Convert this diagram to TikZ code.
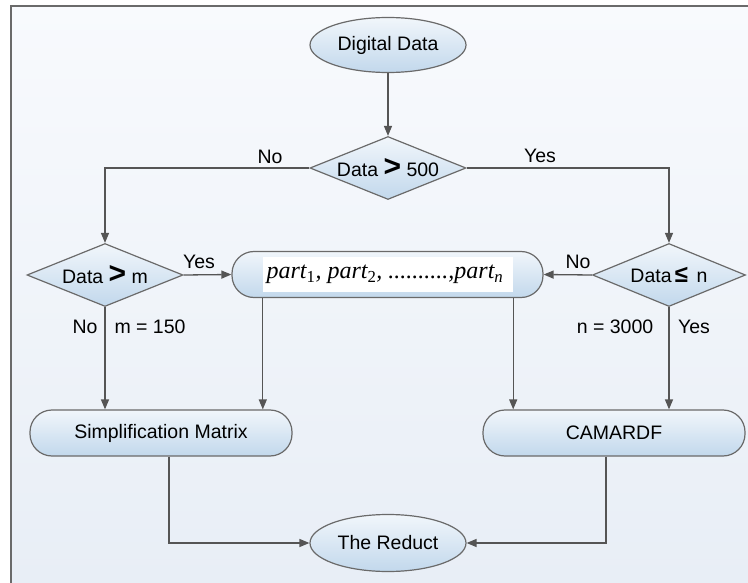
\documentclass[tikz,border=0pt]{standalone}
\usepackage{fontspec}
\setmainfont{Liberation Sans}
\newfontfamily\partfont{Liberation Serif}
\usetikzlibrary{shapes.geometric,arrows.meta}
\definecolor{bgtop}{HTML}{F8FAFD}
\definecolor{bgbot}{HTML}{E8EEF6}
\definecolor{shtop}{HTML}{F1F6FB}
\definecolor{shbot}{HTML}{C2D8EC}
\definecolor{edge}{HTML}{6A6A6A}
\definecolor{wire}{HTML}{555555}
\newcommand\gtsign{{\fontsize{30}{30}\selectfont\bfseries >}}
\tikzset{
  box/.style={draw=edge,line width=1.2pt,top color=shtop,bottom color=shbot},
  term/.style={box,ellipse,minimum width=156pt,minimum height=55pt,inner sep=0pt},
  decide/.style={box,diamond,minimum width=156pt,minimum height=63pt,inner sep=0pt},
  proc/.style={box,rectangle,rounded corners=22pt,minimum height=46pt,inner sep=0pt},
  lbl/.style={inner sep=0pt},
  flow/.style={draw=wire,line width=1.3pt,-{Triangle[length=10pt,width=8pt]}}
}
\begin{document}
\begin{tikzpicture}[x=1pt,y=-1pt,font=\fontsize{19.5}{23}\selectfont]
  \useasboundingbox (0,0) rectangle (748,583);
  \shade[top color=bgtop,bottom color=bgbot] (11,6) rectangle (748,583);
  \draw[edge,line width=1.5pt] (11,583) -- (11,6) -- (748,6);
  \node[term](dd) at (388,45){Digital Data};
  \node[decide,label=center:{Data \gtsign{} 500}](d500) at (388,168){};
  \node[decide,label=center:{Data \gtsign{} m}](dm) at (105,275){};
  \node[decide,minimum width=153pt,label=center:{Data\,{\fontsize{24}{24}\selectfont\bfseries≤}\, n}](dn) at (669,275){};
  \node[proc,minimum width=311pt](part) at (387.5,274.5){};
  \node[fill=white,minimum width=250pt,minimum height=35pt,inner sep=0pt,
    font=\partfont\fontsize{24}{26}\selectfont\itshape](inner) at (388,274.5)
    {part\textsubscript{\upshape 1}, part\textsubscript{\upshape 2}, ..........,part\textsubscript{n}\hspace*{6pt}};
  \node[proc,minimum width=262pt](simp) at (161,433){Simplification Matrix};
  \node[proc,minimum width=262pt](cam) at (614,433){CAMARDF};
  \node[term,minimum height=57pt](red) at (388,543){The Reduct};
  \node[lbl](no1) at (270,157){No};
  \node[lbl](yes1) at (540,156){Yes};
  \node[lbl](yes2) at (199,262){Yes};
  \node[lbl](no2) at (578,262){No};
  \node[lbl](no3) at (85,327){No};
  \node[lbl](mval) at (150,327){m = 150};
  \node[lbl](nval) at (615,327){n = 3000};
  \node[lbl](yes3) at (694,327){Yes};
  \draw[flow] (dd) -- (d500);
  \draw[flow] (d500.west) -| (dm.north);
  \draw[flow] (d500.east) -| (dn.north);
  \draw[flow] (dm.east) -- (part.west);
  \draw[flow] (dn.west) -- (part.east);
  \draw[flow] (dm.south) -- (dm.south |- simp.north);
  \draw[flow] (part.south -| inner.west) -- (simp.north -| inner.west);
  \draw[flow] (part.south -| inner.east) -- (cam.north -| inner.east);
  \draw[flow] (dn.south) -- (dn.south |- cam.north);
  \draw[flow] ([xshift=8pt]simp.south) |- (red.west);
  \draw[flow] ([xshift=-8pt]cam.south) |- (red.east);
\end{tikzpicture}
\end{document}
